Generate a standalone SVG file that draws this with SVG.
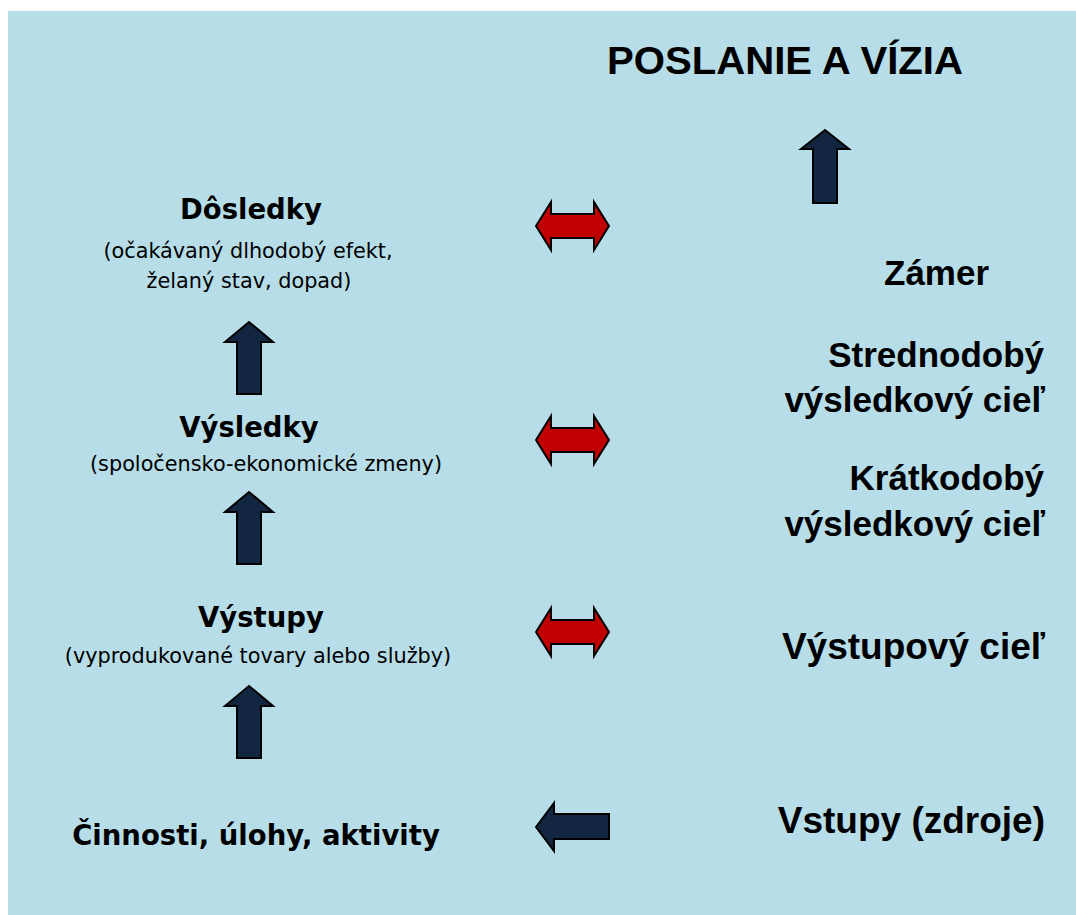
<svg xmlns="http://www.w3.org/2000/svg" width="1076" height="915" viewBox="0 0 1076 915">
<defs>
<style>
.bg{fill:#b7dde8}
.up{fill:#132641;stroke:#000;stroke-width:2;stroke-linejoin:miter}
.red{fill:#c00000;stroke:#000;stroke-width:2;stroke-linejoin:miter}
.h{font-family:"DejaVu Sans",Verdana,sans-serif;font-weight:bold;font-size:27.5px;fill:#000;text-anchor:middle}
.s{font-family:"DejaVu Sans",Verdana,sans-serif;font-size:20.8px;fill:#000;text-anchor:middle}
.r{font-family:"Liberation Sans",Arial,sans-serif;font-weight:bold;font-size:35px;fill:#000;text-anchor:end}
.r2{font-family:"Liberation Sans",Arial,sans-serif;font-weight:bold;font-size:37px;fill:#000;text-anchor:end}
.t{font-family:"Liberation Sans",Arial,sans-serif;font-weight:bold;font-size:39px;fill:#000}
</style>
</defs>
<rect class="bg" x="8" y="11" width="1068" height="904"/>
<g id="title"><text class="t" x="607" y="74" textLength="356" lengthAdjust="spacingAndGlyphs">POSLANIE A VÍZIA</text></g>
<g id="dosledky"><text class="h" x="251" y="219">Dôsledky</text><text class="s" x="248" y="258">(očakávaný dlhodobý efekt,</text><text class="s" x="249" y="288">želaný stav, dopad)</text></g>
<g id="vysledky"><text class="h" x="249" y="437">Výsledky</text><text class="s" x="266" y="471">(spoločensko-ekonomické zmeny)</text></g>
<g id="vystupy"><text class="h" x="261" y="627">Výstupy</text><text class="s" x="258" y="663">(vyprodukované tovary alebo služby)</text></g>
<g id="cinnosti"><text class="h" x="256" y="845" font-size="28.2">Činnosti, úlohy, aktivity</text></g>
<g id="zamer"><text class="r" x="884" y="285" font-size="36" style="text-anchor:start">Zámer</text></g>
<g id="strednodoby"><text class="r" x="1044" y="367">Strednodobý</text><text class="r" x="1045" y="412">výsledkový cieľ</text></g>
<g id="kratkodoby"><text class="r" x="1044" y="490">Krátkodobý</text><text class="r" x="1045" y="536">výsledkový cieľ</text></g>
<g id="vystupovy"><text class="r2" x="1045" y="659">Výstupový cieľ</text></g>
<g id="vstupy"><text class="r2" x="1045" y="833">Vstupy (zdroje)</text></g>
<g id="connectors">
<path class="up" d="M825,130 L849,149 L837,149 L837,203 L813,203 L813,149 L801,149 Z"/>
<path class="up" d="M249,322 L273,342 L261,342 L261,394 L237,394 L237,342 L225,342 Z"/>
<path class="up" d="M249,492 L273,512 L261,512 L261,564 L237,564 L237,512 L225,512 Z"/>
<path class="up" d="M249,686 L273,706 L261,706 L261,758 L237,758 L237,706 L225,706 Z"/>
<path class="red" d="M536,226 L551,202 L551,214 L594,214 L594,202 L609,226 L594,250 L594,238 L551,238 L551,250 Z"/>
<path class="red" d="M536,440 L551,416 L551,428 L594,428 L594,416 L609,440 L594,464 L594,452 L551,452 L551,464 Z"/>
<path class="red" d="M536,632 L551,608 L551,620 L594,620 L594,608 L609,632 L594,656 L594,644 L551,644 L551,656 Z"/>
<path class="up" d="M536,827 L554,803 L554,814 L609,814 L609,839 L554,839 L554,851 Z"/>
</g>
</svg>
